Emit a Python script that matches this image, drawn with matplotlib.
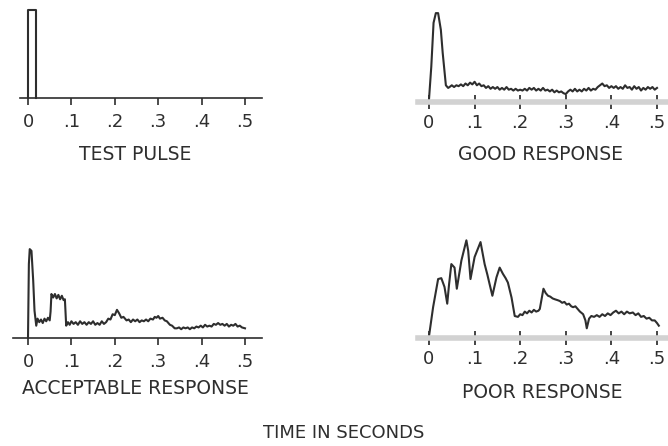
import matplotlib
matplotlib.use("Agg")
import matplotlib.pyplot as plt
import numpy as np

# amplitudes are in percent of the test pulse height, times in milliseconds
tick_values = [0, 0.1, 0.2, 0.3, 0.4, 0.5]
tick_labels = ["0", ".1", ".2", ".3", ".4", ".5"]

pulse_ms = [0, 0, 18, 18]
pulse_amp = [0, 100, 100, 0]

good_ms = [0, 5, 10, 15, 20, 26, 30, 37, 42,
           45, 50, 55, 60, 65, 70, 75, 80, 85, 90, 95, 100, 105, 110, 115, 120,
           125, 130, 135, 140, 145, 150, 155, 160, 165, 170, 175, 180, 185, 190,
           195, 200, 205, 210, 215, 220, 225, 230, 235, 240, 245, 250, 255, 260,
           265, 270, 275, 280, 285, 290, 295, 300, 305, 310, 315, 320, 325, 330,
           335, 340, 345, 350, 355, 360, 365, 370, 375, 380, 385, 390, 395, 400,
           405, 410, 415, 420, 425, 430, 435, 440, 445, 450, 455, 460, 465, 470,
           475, 480, 485, 490, 495, 500]
good_amp = [3, 40, 90, 101, 101, 82, 56, 19, 16,
            17, 19, 17, 19, 18, 20, 18, 21, 19, 22, 20, 23, 19, 21, 18, 19,
            16, 18, 15, 17, 15, 17, 14, 16, 14, 17, 14, 15, 13, 15,
            13, 14, 13, 15, 13, 16, 14, 16, 13, 15, 13, 16, 13, 14,
            12, 14, 11, 13, 11, 12, 10, 9, 12, 14, 12, 15, 12, 14,
            12, 15, 13, 16, 13, 15, 14, 17, 19, 21, 18, 19, 16, 18,
            16, 18, 15, 17, 15, 19, 16, 17, 14, 18, 15, 17, 13, 16,
            14, 17, 15, 17, 14, 16]

acceptable_ms = [0, 2, 4, 8, 12, 15, 19, 22, 26, 30, 34, 38, 42, 46, 50, 52,
                 54, 58, 62, 66, 70, 74, 78, 82, 85, 88, 92, 96, 100, 105, 110,
                 115, 120, 125, 130, 135, 140, 145, 150, 155, 160, 165, 170, 175,
                 180, 185, 190, 195, 200, 205, 210, 215, 220, 227, 232, 237, 242,
                 247, 252, 257, 262, 267, 272, 277, 282, 288, 292, 296, 300, 304,
                 310, 315, 320, 327, 332, 338, 343, 348, 353, 358, 363, 368, 373,
                 378, 383, 388, 393, 398, 403, 408, 413, 418, 423, 428, 433, 438,
                 443, 448, 453, 458, 463, 468, 473, 478, 483, 488, 493, 500]
acceptable_amp = [0, 84, 101, 99, 65, 31, 14, 22, 18, 21, 17, 22, 19, 23, 20, 30,
                  50, 46, 50, 45, 49, 44, 48, 43, 44, 14, 18, 15, 19, 16, 18,
                  15, 19, 16, 18, 15, 18, 16, 19, 15, 17, 15, 19, 16,
                  18, 22, 21, 27, 26, 32, 28, 23, 24, 20, 21, 18, 21, 19, 21,
                  18, 20, 19, 21, 19, 22, 21, 24, 23, 25, 22,
                  23, 20, 19, 15, 14, 11, 11, 12, 10, 12, 11, 12, 10, 12,
                  11, 13, 12, 14, 12, 15, 13, 14, 13, 16, 15, 17,
                  15, 16, 14, 16, 13, 15, 14, 16, 13, 14, 12, 11]

poor_ms = [0, 9, 20, 27, 34, 40, 44, 49, 56, 61, 71, 82, 86, 91, 100, 113, 122,
           128, 133, 139, 148, 155, 162, 168, 173, 181, 188, 195, 200, 205, 210,
           215, 220, 225, 230, 235, 240, 243, 251, 256, 261, 266, 271, 276, 282,
           287, 292, 297, 302, 307, 312, 316, 321, 326, 331, 338, 343, 346, 351,
           356, 362, 368, 374, 380, 386, 392, 398, 404, 410, 416, 422, 428, 434,
           440, 447, 453, 459, 465, 471, 477, 483, 489, 495, 500, 504]
poor_amp = [2, 35, 67, 68, 58, 39, 61, 84, 80, 56, 88, 111, 99, 67, 92, 109, 84,
            72, 61, 48, 69, 80, 73, 68, 63, 46, 25, 24, 27, 26, 30,
            28, 31, 29, 32, 30, 31, 33, 56, 51, 48, 47, 45, 44, 43,
            42, 40, 41, 38, 39, 36, 35, 36, 33, 30, 27, 20, 11, 22,
            25, 24, 26, 24, 27, 25, 28, 26, 29, 31, 28, 30, 27, 30,
            28, 29, 26, 28, 24, 25, 22, 23, 20, 20, 17, 14]

panels = [
    # (time ms, amplitude, title, pixel box, t0 px, px per s, axis style, title pos)
    (pulse_ms, pulse_amp, "TEST PULSE", (20, 262, 98), 28, 434, "thin", (135, 155)),
    (good_ms, good_amp, "GOOD RESPONSE", (418, 668, 102), 429, 456, "band", (540, 155)),
    (acceptable_ms, acceptable_amp, "ACCEPTABLE RESPONSE", (13, 262, 338), 28, 434, "thin", (135, 388)),
    (poor_ms, poor_amp, "POOR RESPONSE", (418, 668, 338), 429, 456, "band", (542, 392)),
]

W, H = 668, 446
fig = plt.figure(figsize=(W / 100, H / 100), dpi=100)
ink = "#2e2e2e"
AX_H = 100  # axes height in pixels
Y_TOP = AX_H / 0.88  # 88 px = 100 %

for ms, amp, title, (left, right, base), t0px, pxs, style, (tx, ty) in panels:
    ax = fig.add_axes([left / W, 1 - base / H, (right - left) / W, AX_H / H])
    ax.patch.set_alpha(0)
    t = np.array(ms) / 1000.0
    ax.plot(t, amp, color=ink, lw=1.5, clip_on=False, solid_joinstyle="round")
    ax.set_xlim((left - t0px) / pxs, (right - t0px) / pxs)
    ax.set_ylim(0, Y_TOP)
    for s in ["top", "right", "left"]:
        ax.spines[s].set_visible(False)
    ax.set_yticks([])
    ax.set_xticks(tick_values)
    ax.set_xticklabels(tick_labels)
    if style == "thin":
        ax.spines["bottom"].set_color(ink)
        ax.spines["bottom"].set_linewidth(1.2)
        ax.tick_params(axis="x", direction="out", length=5, width=1.2,
                       color=ink, pad=6, labelsize=13, labelcolor=ink)
    else:
        ax.spines["bottom"].set_color("#d2d2d2")
        ax.spines["bottom"].set_linewidth(4)
        ax.tick_params(axis="x", direction="inout", length=10, width=1.4,
                       color="#444444", pad=4, labelsize=13, labelcolor=ink)
    fig.text(tx / W, 1 - ty / H, title, ha="center", va="center",
             fontsize=13.5, color=ink)

fig.text(344 / W, 1 - 433 / H, "TIME IN SECONDS", ha="center", va="center",
         fontsize=13, color=ink)

fig.savefig("out.png", dpi=100, facecolor="white")
